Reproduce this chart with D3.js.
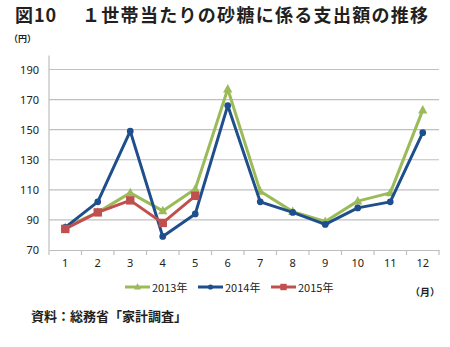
<!DOCTYPE html>
<html><head><meta charset="utf-8">
<script src="https://cdn.jsdelivr.net/npm/d3@7"></script>
<style>
html,body{margin:0;padding:0;background:#fff;}
svg{display:block;font-family:"Noto Sans CJK JP","Noto Sans",sans-serif;}
</style></head>
<body><svg id="c" width="450" height="347"></svg>
<script>
const months = ["1","2","3","4","5","6","7","8","9","10","11","12"];
const yTicks = [70,90,110,130,150,170,190];
const s2013 = [85,95,108,96,110.5,177,109,95.5,89,102.5,108,163];
const s2014 = [85,102,149,79,94,166,102,95,87,98,102,148];
const s2015 = [84,95,103,88,106];
const seriesNames = ["2013年","2014年","2015年"];
const colors = ["#9bbb59","#1f4e8c","#c0504d"];
const shapes = ["triangle","circle","square"];

const svg = d3.select("#c");
const L = 49, R = 439, T = 69.5, B = 250;
const x = d3.scaleBand().domain(months).range([L, R]);
const y = d3.scaleLinear().domain([70,190]).range([B, T]);

const title = svg.append("text").attr("x",15).attr("y",22)
  .attr("font-size",18).attr("font-weight","bold").attr("fill","#231f20");
title.append("tspan").attr("letter-spacing",1).text("図10　");
title.append("tspan").attr("x",82).attr("letter-spacing",1.3).text("１世帯当たりの砂糖に係る支出額の推移");
svg.append("text").attr("x",9).attr("y",42).attr("font-size",9).attr("font-weight","bold").attr("fill","#231f20").text("（円）");

// gridlines
svg.append("g").selectAll("line").data(yTicks.slice(1)).join("line")
  .attr("x1",L).attr("x2",R).attr("y1",d=>y(d)).attr("y2",d=>y(d))
  .attr("stroke","#c0c0c0").attr("stroke-width",1.2);

// y axis
const ya = svg.append("g").attr("transform",`translate(${L},0)`)
  .call(d3.axisLeft(y).tickValues(yTicks).tickSize(0).tickPadding(10));
ya.select(".domain").attr("stroke","#bfbfbf").attr("stroke-width",1.2).attr("d",`M0,${T-14}V${B}`);
ya.selectAll("text").attr("font-size",11).attr("fill","#222").attr("font-family","'Noto Sans',sans-serif");

// x axis
const xa = svg.append("g").attr("transform",`translate(0,${B})`)
  .call(d3.axisBottom(x).tickSize(0).tickPadding(9));
xa.select(".domain").attr("stroke","#bfbfbf").attr("stroke-width",1.2);
xa.selectAll("text").attr("font-size",11).attr("fill","#222").attr("font-family","'Noto Sans',sans-serif");
xa.append("g").selectAll("line").data(d3.range(13)).join("line")
  .attr("x1",i=>L+i*x.step()).attr("x2",i=>L+i*x.step()).attr("y1",0).attr("y2",5)
  .attr("stroke","#bfbfbf").attr("stroke-width",1.2);

function marker(g, shape, cx, cy, color, sz){
  if(shape==="circle") g.append("circle").attr("cx",cx).attr("cy",cy).attr("r",sz*0.8).attr("fill",color);
  else if(shape==="square") g.append("rect").attr("x",cx-sz).attr("y",cy-sz).attr("width",2*sz).attr("height",2*sz).attr("fill",color);
  else g.append("path").attr("d",`M${cx},${cy-sz*1.2}L${cx+sz*1.1},${cy+sz*0.8}L${cx-sz*1.1},${cy+sz*0.8}Z`).attr("fill",color);
}

const allSeries = [s2013, s2014, s2015];
const line = d3.line().x((d,i)=>x(months[i])+x.bandwidth()/2).y(d=>y(d));
allSeries.forEach((s,k)=>{
  const g = svg.append("g");
  g.append("path").datum(s).attr("d",line).attr("fill","none").attr("stroke",colors[k])
    .attr("stroke-width",3).attr("stroke-linejoin","round");
  s.forEach((v,i)=>marker(g, shapes[k], x(months[i])+x.bandwidth()/2, y(v), colors[k], 4.2));
});

// legend
const lx = [125,198,271];
seriesNames.forEach((n,k)=>{
  const g = svg.append("g");
  g.append("line").attr("x1",lx[k]).attr("x2",lx[k]+25).attr("y1",287).attr("y2",287)
    .attr("stroke",colors[k]).attr("stroke-width",3);
  marker(g, shapes[k], lx[k]+12.5, 287, colors[k], 3.2);
  g.append("text").attr("x",lx[k]+27).attr("y",291.5).attr("font-size",11).attr("fill","#222").text(n);
});
svg.append("text").attr("x",410).attr("y",296).attr("font-size",10).attr("font-weight","bold").attr("fill","#231f20").text("（月）");
svg.append("text").attr("x",31).attr("y",321).attr("font-size",13).attr("font-weight","bold").attr("fill","#231f20").text("資料：総務省「家計調査」");
</script></body></html>
